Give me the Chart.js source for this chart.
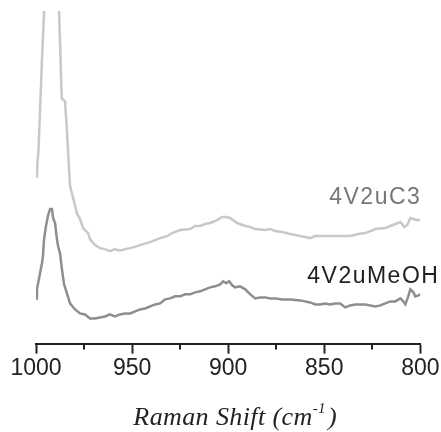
<!DOCTYPE html>
<html>
<head>
<meta charset="utf-8">
<script src="https://cdn.jsdelivr.net/npm/chart.js@4/dist/chart.umd.min.js"></script>
<style>
  html, body { margin: 0; padding: 0; background: #fff; }
  #wrap { width: 441px; height: 432px; }
</style>
</head>
<body>
<div id="wrap"><canvas id="c" width="441" height="432"></canvas></div>
<script>
// Raman spectra, 1000–800 cm-1 (intensity in arbitrary units, stacked)
const seriesNames = ['4V2uC3', '4V2uMeOH'];

const c3Shift = [999.6, 999.2, 998.7, 997.9, 996.9, 995.8, 992.2, 988.0, 986.6, 984.9,
  984.0, 982.3, 980.7, 978.6, 977.1, 975.5, 972.9, 971.9, 969.3, 966.7,
  964.1, 961.5, 958.9, 957.3, 955.2, 953.6, 951.0, 947.4, 944.3, 940.6,
  938.0, 935.4, 931.8, 929.2, 925.0, 919.8, 917.2, 914.6, 912.0, 909.4,
  906.8, 903.1, 901.0, 899.0, 895.3, 891.1, 888.5, 885.9, 880.7, 878.1,
  875.5, 871.9, 867.7, 862.5, 859.9, 857.3, 854.7, 851.0, 846.9, 841.7,
  836.5, 832.3, 828.6, 826.0, 823.4, 818.2, 815.6, 813.0, 810.4, 808.3,
  806.8, 805.2, 803.6, 802.1, 800.0];
const c3Intensity = [165, 182, 192, 232, 282, 331, 482, 331, 244, 241,
  215, 157, 145, 129, 124, 115, 110, 104, 98, 95,
  94, 92, 94, 93, 93, 94, 95, 97, 99, 101,
  103, 105, 107, 110, 113, 114, 117, 117, 119, 120,
  122, 126, 126, 125, 120, 117, 116, 114, 113, 114,
  112, 111, 109, 107, 106, 105, 107, 107, 107, 107,
  107, 109, 110, 112, 114, 115, 117, 119, 121, 116,
  118, 125, 124, 123, 123];

const meohShift = [1000.0, 999.5, 997.9, 996.9, 996.4, 995.8, 994.8, 993.8, 992.7, 991.7,
  991.1, 990.1, 989.1, 988.5, 987.5, 986.5, 985.4, 983.9, 982.3, 979.7,
  977.1, 974.5, 971.9, 969.3, 966.7, 964.1, 961.5, 958.9, 956.3, 953.6,
  951.0, 948.4, 945.8, 943.2, 940.6, 938.0, 935.4, 932.8, 930.2, 927.6,
  925.0, 922.4, 919.8, 917.2, 914.6, 912.0, 909.4, 906.8, 904.2, 902.6,
  901.0, 899.5, 897.9, 896.4, 893.8, 891.1, 888.5, 885.9, 883.3, 880.7,
  878.1, 875.5, 871.9, 867.7, 862.5, 857.3, 854.7, 852.1, 849.5, 846.9,
  844.3, 841.7, 839.1, 836.5, 833.9, 828.6, 823.4, 820.8, 818.2, 815.6,
  813.0, 810.4, 808.9, 807.8, 806.3, 805.2, 803.6, 802.6, 801.0, 800.0];
const meohIntensity = [45, 54, 70, 80, 87, 104, 117, 127, 134, 134,
  125, 120, 104, 97, 90, 74, 59, 50, 40, 34,
  30, 29, 25, 25, 26, 27, 29, 27, 29, 30,
  30, 32, 34, 35, 37, 39, 40, 44, 45, 47,
  47, 49, 49, 51, 52, 54, 56, 57, 59, 62,
  60, 62, 58, 56, 57, 54, 49, 45, 46, 46,
  45, 45, 44, 44, 43, 41, 39, 39, 40, 39,
  40, 40, 36, 38, 39, 39, 37, 38, 40, 42,
  42, 45, 42, 39, 47, 54, 51, 47, 48, 49];

const xTicks = [1000, 950, 900, 850, 800];
const xMinorTicks = [975, 925, 875, 825];

const toPoints = (xs, ys) => xs.map((x, i) => ({ x: x, y: ys[i] }));

// Minor tick marks (shorter than the labelled ones)
const minorTicks = {
  id: 'minorTicks',
  afterDraw(chart) {
    const xs = chart.scales.x;
    const ctx = chart.ctx;
    ctx.save();
    ctx.strokeStyle = '#222';
    ctx.lineWidth = 2;
    xMinorTicks.forEach(v => {
      const px = Math.round(xs.getPixelForValue(v));
      ctx.beginPath();
      ctx.moveTo(px, xs.top);
      ctx.lineTo(px, xs.top + 6);
      ctx.stroke();
    });
    ctx.restore();
  }
};

// Series names beside the traces, and the axis caption with its superscript
const annotations = {
  id: 'annotations',
  afterDraw(chart) {
    const ctx = chart.ctx;
    const xs = chart.scales.x, ys = chart.scales.y;
    ctx.save();
    ctx.textAlign = 'right';
    ctx.textBaseline = 'alphabetic';
    ctx.font = '23px "Liberation Sans", Arial, sans-serif';
    try { ctx.letterSpacing = '1.5px'; } catch (e) {}
    ctx.fillStyle = '#777';
    ctx.fillText(seriesNames[0], xs.getPixelForValue(800) + 1, ys.getPixelForValue(139));
    ctx.fillStyle = '#222';
    ctx.fillText(seriesNames[1], xs.getPixelForValue(790.6) + 1, ys.getPixelForValue(60));

    // axis caption
    const main = 'Raman Shift (cm';
    const sup = '-1';
    const tail = ')';
    const big = 'italic 26px "Liberation Serif", "Times New Roman", serif';
    const small = 'italic 15px "Liberation Serif", "Times New Roman", serif';
    try { ctx.letterSpacing = '0.4px'; } catch (e) {}
    ctx.font = big;
    const w1 = ctx.measureText(main).width;
    const w3 = ctx.measureText(tail).width;
    ctx.font = small;
    const w2 = ctx.measureText(sup).width;
    const total = w1 + w2 + 2 + w3;
    const cx = (xs.left + xs.right) / 2 + 7;
    let x = cx - total / 2;
    const base = 425;
    ctx.textAlign = 'left';
    ctx.fillStyle = '#222';
    ctx.font = big;
    ctx.fillText(main, x, base);
    x += w1;
    ctx.font = small;
    ctx.fillText(sup, x, base - 12);
    x += w2 + 2;
    ctx.font = big;
    ctx.fillText(tail, x, base);
    ctx.restore();
  }
};

new Chart(document.getElementById('c'), {
  type: 'line',
  data: {
    datasets: [
      {
        label: seriesNames[0],
        data: toPoints(c3Shift, c3Intensity),
        borderColor: '#c8c8c8',
        borderWidth: 2.5,
        pointRadius: 0,
        tension: 0,
        fill: false
      },
      {
        label: seriesNames[1],
        data: toPoints(meohShift, meohIntensity),
        borderColor: '#8e8e8e',
        borderWidth: 2.5,
        pointRadius: 0,
        tension: 0,
        fill: false
      }
    ]
  },
  options: {
    responsive: false,
    animation: false,
    events: [],
    layout: { padding: { left: 36, right: 20.65, top: 11, bottom: 48.8 } },
    plugins: {
      legend: { display: false },
      tooltip: { enabled: false },
      title: { display: false }
    },
    scales: {
      x: {
        type: 'linear',
        reverse: true,
        min: 800,
        max: 1000,
        afterBuildTicks(scale) {
          scale.ticks = xTicks.map(v => ({ value: v }));
        },
        border: { display: true, color: '#222', width: 2 },
        grid: {
          drawOnChartArea: false,
          drawTicks: true,
          tickLength: 10,
          tickWidth: 2,
          tickColor: '#222'
        },
        ticks: {
          padding: 1,
          color: '#222',
          maxRotation: 0,
          autoSkip: false,
          font: { family: '"Liberation Sans", Arial, sans-serif', size: 23 },
          callback: v => String(v)
        }
      },
      y: {
        display: false,
        min: 0,
        max: 331
      }
    }
  },
  plugins: [minorTicks, annotations]
});
</script>
</body>
</html>
